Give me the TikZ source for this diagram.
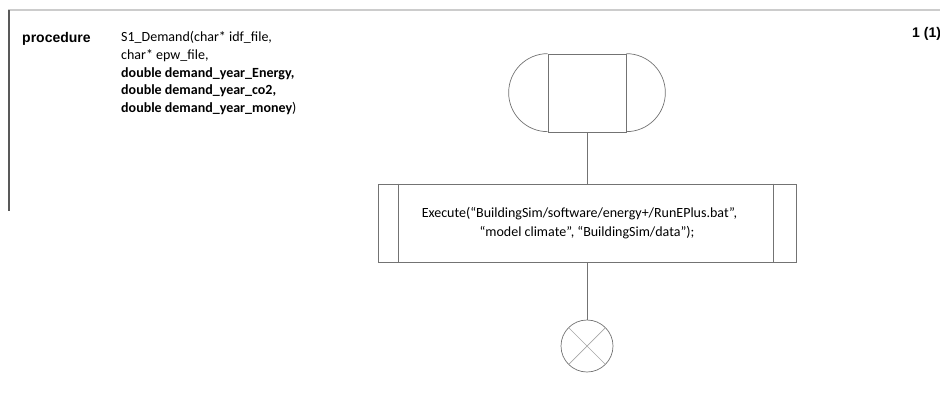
\documentclass[tikz,border=0pt]{standalone}
\usepackage{fontspec}
\setmainfont{Carlito}
\newfontfamily\headfont{Liberation Sans}
\usetikzlibrary{positioning, calc}
\tikzset{every node/.style={inner sep=0pt}, flowline/.style={draw=black!55, line width=0.7pt}, headtext/.style={font=\headfont\bfseries\fontsize{14}{17}\selectfont}}

\begin{document}
\begin{tikzpicture}[x=1pt, y=-1pt, terminal/.style={flowline, rectangle, minimum width=78pt, minimum height=78pt}, process/.style={flowline, rectangle, minimum width=418pt, minimum height=78pt, align=center, font=\fontsize{14}{18.5}\selectfont}, stopper/.style={flowline, circle, minimum size=52pt}]
	\def \rad {39pt}
	\useasboundingbox (0,0) rectangle (940,407);
	\draw[black!20, line width=1.2pt] (8,10) -- (940,10);
	\draw[black!65, line width=1.6pt] (9,10) -- (9,211);
	\node[headtext, anchor=base west] at (22,42) (Proc) {procedure};
	\node[anchor=north west, align=left, font=\fontsize{14}{17.6}\selectfont] at (121,31.4) (Sig) {S1\_Demand(char* idf\_file,\\char* epw\_file,\\\textbf{double demand\_year\_Energy,}\\\textbf{double demand\_year\_co2,}\\\textbf{double demand\_year\_money})};
	\node[headtext, anchor=base west] at (912,37) (Page) {1 (1)};
	\node[terminal] at (587,93) (Start) {};
	\draw[flowline] (Start.north west) arc[start angle=90, end angle=270, radius=\rad];
	\draw[flowline] (Start.north east) arc[start angle=90, end angle=-90, radius=\rad];
	\node[process] at (587,223) (Exec) {Execute(“BuildingSim/software/energy+/RunEPlus.bat”,\rule{15pt}{0pt}\\“model climate”, “BuildingSim/data”);};
	\draw[flowline] ($(Exec.north west)+(21,0)$) -- ($(Exec.south west)+(21,0)$);
	\draw[flowline] ($(Exec.north east)+(-23,0)$) -- ($(Exec.south east)+(-23,0)$);
	\node[stopper] at (587,346) (Stop) {};
	\draw[flowline, draw=black!35] (Stop.north west) -- (Stop.south east) (Stop.north east) -- (Stop.south west);
	\draw[flowline] (Start) -- (Exec) (Exec) -- (Stop);
\end{tikzpicture}
\end{document}
